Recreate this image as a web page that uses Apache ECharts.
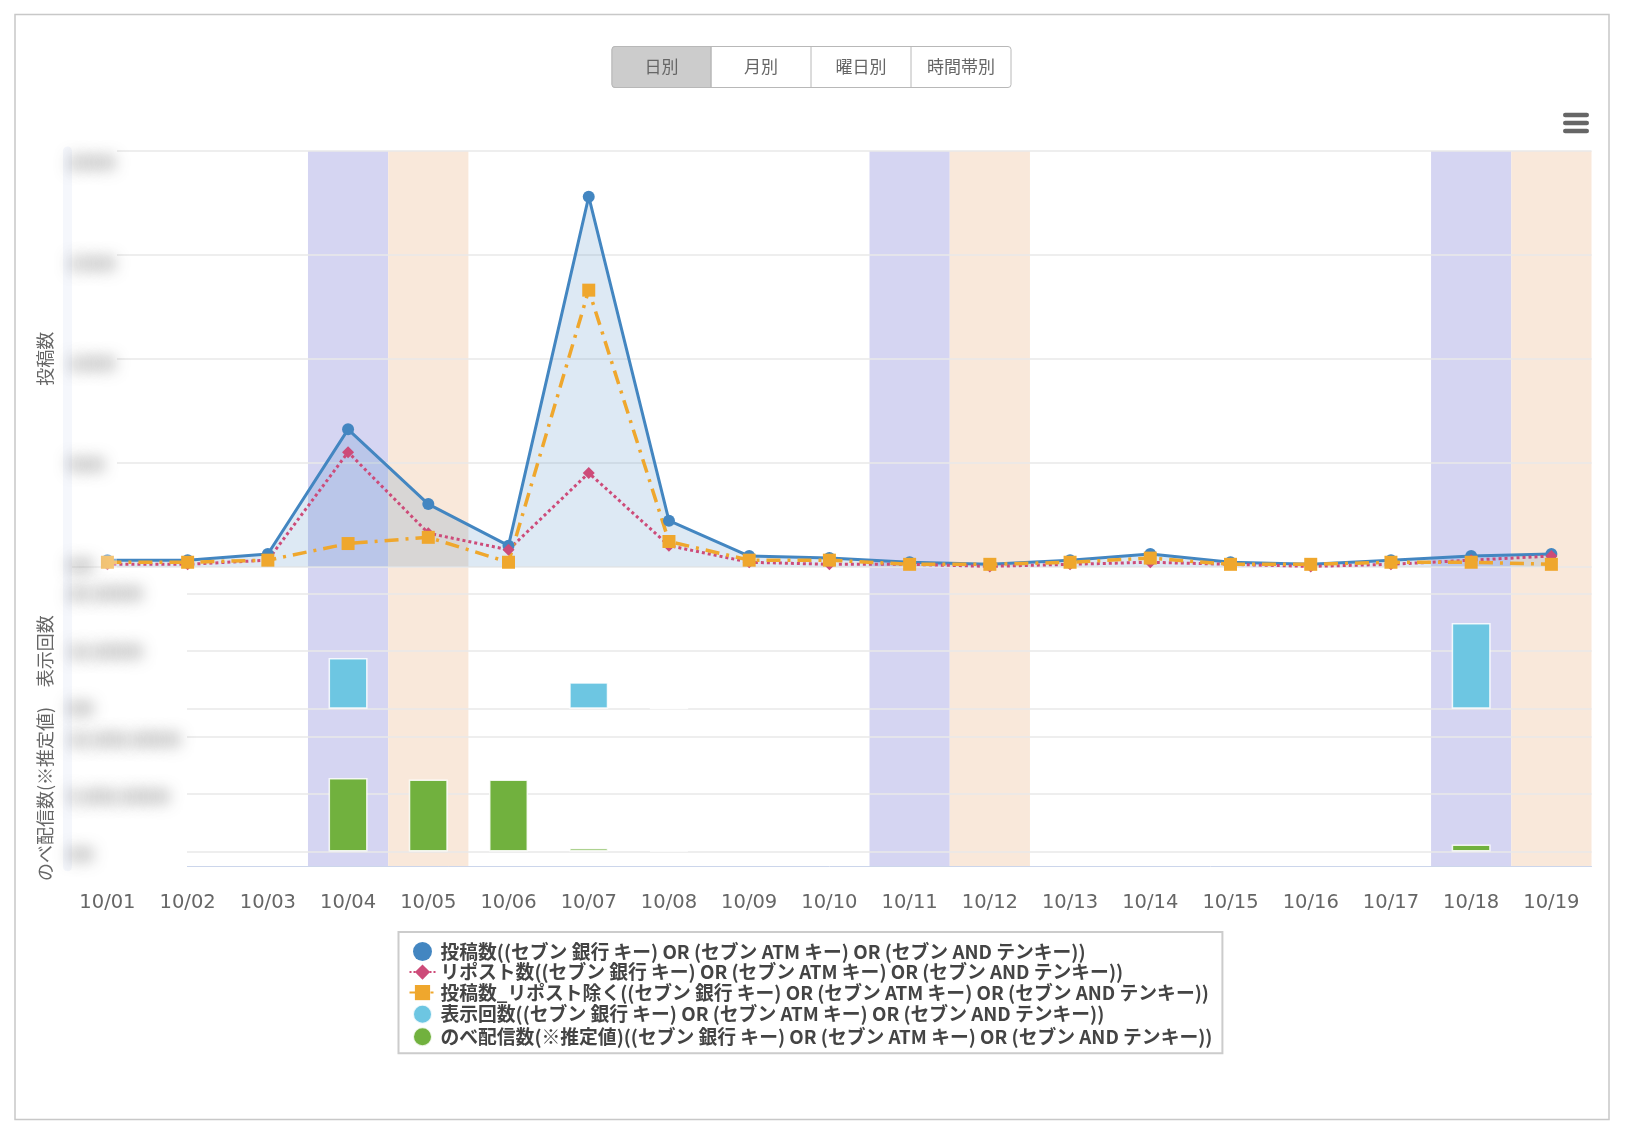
<!DOCTYPE html>
<html><head><meta charset="utf-8">
<style>html,body{margin:0;padding:0;background:#fff}#c{width:1628px;height:1140px}</style>
<script src="https://cdn.jsdelivr.net/npm/echarts@6/dist/echarts.min.js"></script>
</head><body><div id="c"></div>
<script>
const categories=['10/01','10/02','10/03','10/04','10/05','10/06','10/07','10/08','10/09','10/10','10/11','10/12','10/13','10/14','10/15','10/16','10/17','10/18','10/19'];
const postCounts=[3,3,6,66,30,10,178,22,5,4,2,1,3,6,2,1,3,5,6];
const repostCounts=[1,1,3,55,16,8,45,10,2,1,1,0,1,2,1,0,1,3,5];
const originalCounts=[2,2,3,11,14,2,133,12,3,3,1,1,2,4,1,1,2,2,1];
const impressions=[null,null,null,8800,null,null,4600,100,null,null,null,null,null,null,null,null,null,14900,null];
const deliveries=[null,null,null,6400000,6270000,6270000,300000,100000,null,null,null,null,null,null,null,null,null,600000,null];
const saturdayBand=[null,null,null,1,null,null,null,null,null,null,1,null,null,null,null,null,null,1,null];
const sundayBand=[null,null,null,null,1,null,null,null,null,null,null,1,null,null,null,null,null,null,1];
const postTicks=['0件','50件','100件','150件','200件'];
const impressionTicks=['0件','10,000件','20,000件'];
const deliveryTicks=['0件','5,000,000件','10,000,000件'];
const buttonLabels=['日別','月別','曜日別','時間帯別'];
const Q='((セブン 銀行 キー) OR (セブン ATM キー) OR (セブン AND テンキー))';
const names=['投稿数'+Q,'リポスト数'+Q,'投稿数_リポスト除く'+Q,'表示回数'+Q,'のべ配信数(※推定値)'+Q];

const JP='"Noto Sans CJK JP","Noto Sans",sans-serif';
const L=67.3,W=1524.2;
const GRID='#e8e8e8';
const grids=[
 {top:151,height:715.7},{top:151,height:415.4},{top:593.7,height:115},{top:736.5,height:115},
 {top:164.8,height:402.4},{top:596,height:115},{top:741.2,height:115}
].map(g=>({left:L,width:W,top:g.top,height:g.height,containLabel:false}));
const hiddenX=i=>({type:'category',gridIndex:i,data:categories,show:false,boundaryGap:true});
const xAxis=grids.map((g,i)=>hiddenX(i));
xAxis[0]={type:'category',gridIndex:0,data:categories,boundaryGap:true,z:1,
 axisLine:{show:true,lineStyle:{color:'#ccd6eb',width:1}},axisTick:{show:false},
 axisLabel:{show:true,interval:0,margin:26,color:'#666',fontSize:19.5,fontFamily:'"DejaVu Sans",sans-serif'}};
const gridAxis=(i,max,interval,name,gap)=>({type:'value',gridIndex:i,min:0,max,interval,z:1,
 name,nameLocation:'middle',nameGap:gap,nameRotate:90,nameTextStyle:{color:'#666',fontSize:18,fontFamily:JP},
 axisLine:{show:false},axisTick:{show:false},axisLabel:{show:false},
 splitLine:{show:true,lineStyle:{color:GRID,width:1.5}}});
const labelAxis=(i,data)=>({type:'category',gridIndex:i,data,boundaryGap:false,z:6,
 axisLine:{show:false},axisTick:{show:false},splitLine:{show:false},
 axisLabel:{inside:true,interval:0,margin:-1800,align:'left',fontSize:17,color:'#999',fontFamily:'"DejaVu Sans",sans-serif',
  textShadowColor:'rgba(70,70,70,1)',textShadowBlur:15,textShadowOffsetX:276,textShadowOffsetY:0}});
const yAxis=[
 {type:'value',gridIndex:0,min:0,max:1,z:5,axisLine:{show:true,lineStyle:{color:'#f5f7fc',width:9}},axisTick:{show:false},axisLabel:{show:false},splitLine:{show:false}},
 gridAxis(1,200,50,'投稿数',13),
 gridAxis(2,20000,10000,'表示回数',13),
 gridAxis(3,10000000,5000000,'のべ配信数(※推定値)',13),
 labelAxis(4,postTicks),labelAxis(5,impressionTicks),labelAxis(6,deliveryTicks)
];
const band=(data,color)=>({type:'bar',xAxisIndex:0,yAxisIndex:0,data,barWidth:'100%',barGap:'-100%',z:0,silent:true,itemStyle:{color},tooltip:{show:false}});
const bar=(name,data,color,i)=>({name,type:'bar',xAxisIndex:i,yAxisIndex:i,data,barWidth:39,z:2,itemStyle:{color,borderColor:'rgba(255,255,255,0.85)',borderWidth:1.5}});
const line=(name,data,color,symbol,type,width,size,extra)=>Object.assign({name,type:'line',xAxisIndex:1,yAxisIndex:1,data,z:2,symbol,symbolSize:size,showAllSymbol:true,
 itemStyle:{color},lineStyle:{color,width,type}},extra||{});
const series=[
 band(saturdayBand,'#d5d5f2'),band(sundayBand,'#f9e8da'),
 line(names[0],postCounts,'#4386c1','circle','solid',3,12,{areaStyle:{color:'rgba(67,134,193,0.26)'}}),
 line(names[1],repostCounts,'#cd4b79','diamond','dotted',3,12),
 line(names[2],originalCounts,'#efa72d','rect',[14,7,3,7],3.5,13),
 bar(names[3],impressions,'#6dc6e2',2),
 bar(names[4],deliveries,'#71b13e',3)
];
// page furniture
const BX=[612,711,811,911,1011],BY=46.5,BH=41;
const graphic=[
 {type:'rect',z:0,shape:{x:15,y:14.5,width:1594,height:1105},style:{fill:'#fff',stroke:'#c8c8c8',lineWidth:1.5}},
 {type:'rect',z:7,shape:{x:BX[0],y:BY,width:BX[4]-BX[0],height:BH,r:3},style:{fill:'#fff',stroke:'#b8b8b8',lineWidth:1}},
 {type:'rect',z:7,shape:{x:BX[0],y:BY,width:BX[1]-BX[0],height:BH,r:[3,0,0,3]},style:{fill:'#cccccc',stroke:'#b8b8b8',lineWidth:1}},
 {type:'rect',z:3,shape:{x:62,y:145,width:55,height:390},style:{fill:'#fff'}},
 {type:'rect',z:3,shape:{x:62,y:535,width:55,height:43},style:{fill:'#fff',opacity:0.35}},
 {type:'rect',z:3,shape:{x:62,y:578,width:125,height:292},style:{fill:'#fff'}}
];
buttonLabels.forEach((t,i)=>{
 if(i>0)graphic.push({type:'line',z:8,shape:{x1:BX[i],y1:BY,x2:BX[i],y2:BY+BH},style:{stroke:'#b8b8b8',lineWidth:1}});
 graphic.push({type:'text',z:8,x:(BX[i]+BX[i+1])/2,y:BY+BH/2,style:{text:t,fill:'#666',font:'17px '+JP,textAlign:'center',textVerticalAlign:'middle'}});
});
[115,123,131].forEach(y=>graphic.push({type:'rect',z:8,shape:{x:1563,y:y-2.2,width:26,height:4.4,r:2.2},style:{fill:'#666'}}));
const icons=['circle',undefined,undefined,'circle','circle'];
const option={animation:false,backgroundColor:'#fff',grid:grids,xAxis,yAxis,series,graphic,
 legend:{show:true,orient:'vertical',left:398.5,top:932,padding:[10,10,6,10],itemGap:1.7,itemWidth:26,itemHeight:19,
  backgroundColor:'#fff',borderColor:'#ccc',borderWidth:2,borderRadius:0,z:8,selectedMode:false,
  textStyle:{color:'#444',fontSize:18.8,lineHeight:18,fontWeight:'bold',fontFamily:JP},
  data:names.map((name,i)=>icons[i]?{name,icon:icons[i]}:{name})}};
const chart=echarts.init(document.getElementById('c'),null,{renderer:'canvas'});
chart.setOption(option);
</script></body></html>
